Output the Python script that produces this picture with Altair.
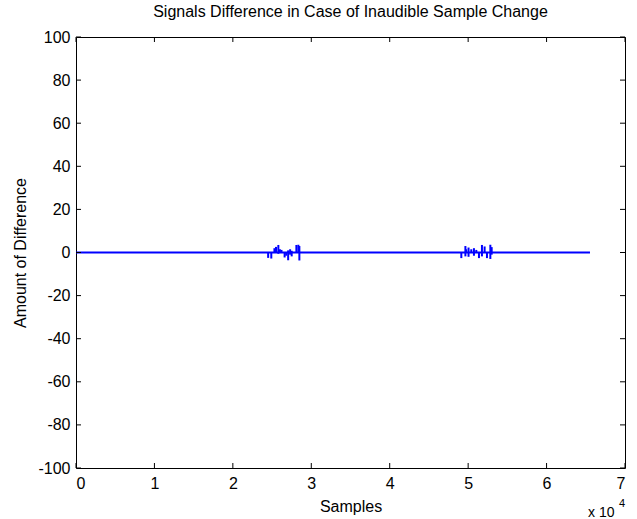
import altair as alt
import pandas as pd

# Baseline of the difference signal (essentially zero everywhere)
base_x = [0, 65536]
base_y = [0, 0]

# Spikes where the sample change happened (sample index, min, max)
spike_x = [24500, 24900, 25300, 25500, 25800, 26000, 26200, 26600, 26800, 27050,
           27300, 27500, 28100, 28350, 28480,
           49130, 49650, 49750, 50050, 50400, 50740, 51040, 51380, 51760, 52100,
           52400, 52830, 53000]
spike_lo = [-2.5, -2.8, 0, 0, -0.6, 0, 0, -2.3, -1.5, -3.6,
            -1.0, -1.8, 0, 0, -3.7,
            -2.6, -1.8, 0, -2.0, 0, -1.5, 0, -2.6, -1.8, 0,
            -2.6, -3.0, -1.0]
spike_hi = [0, 0, 2.0, 2.6, 3.5, 1.5, 1.2, 0, 0, 1.0,
            1.5, 0.8, 3.5, 3.6, 3.0,
            0, 3.0, 1.5, 2.3, 1.5, 2.0, 1.2, 0, 3.5, 2.8,
            0, 3.6, 2.5]

x_ticks = [0, 10000, 20000, 30000, 40000, 50000, 60000, 70000]
y_ticks = [-100, -80, -60, -40, -20, 0, 20, 40, 60, 80, 100]

W, H = 549, 431
FONT = "Liberation Sans"
FS = 16
BLUE = "#0000FF"

xscale = alt.Scale(domain=[0, 70000], nice=False, zero=False)
yscale = alt.Scale(domain=[-100, 100], nice=False, zero=False)

base_df = pd.DataFrame({"x": base_x, "y": base_y})
spike_df = pd.DataFrame({"x": spike_x, "lo": spike_lo, "hi": spike_hi})
xt_df = pd.DataFrame({"v": x_ticks})
yt_df = pd.DataFrame({"v": y_ticks})

base = alt.Chart(base_df).mark_line(color=BLUE, strokeWidth=2).encode(
    x=alt.X("x:Q", scale=xscale, title="Samples",
            axis=alt.Axis(values=x_ticks, labelExpr="'' + (datum.value / 10000)",
                          ticks=False, domain=False, grid=False,
                          labelFont=FONT, labelFontSize=FS, labelColor="black",
                          labelPadding=7, titleFont=FONT, titleFontSize=FS,
                          titleFontWeight="normal", titleColor="black",
                          titlePadding=7)),
    y=alt.Y("y:Q", scale=yscale, title="Amount of Difference",
            axis=alt.Axis(values=y_ticks, labelExpr="'' + datum.value",
                          ticks=False, domain=False, grid=False,
                          labelFont=FONT, labelFontSize=FS, labelColor="black",
                          labelPadding=6, titleFont=FONT, titleFontSize=FS,
                          titleFontWeight="normal", titleColor="black",
                          titlePadding=9)),
)

spikes = alt.Chart(spike_df).mark_rule(color=BLUE, strokeWidth=2).encode(
    x=alt.X("x:Q", scale=xscale),
    y=alt.Y("lo:Q", scale=yscale),
    y2="hi:Q",
)

tick_len = 5
xt_bottom = alt.Chart(xt_df).mark_rule(color="black").encode(
    x=alt.X("v:Q", scale=xscale), y=alt.value(H), y2=alt.value(H - tick_len))
xt_top = alt.Chart(xt_df).mark_rule(color="black").encode(
    x=alt.X("v:Q", scale=xscale), y=alt.value(0), y2=alt.value(tick_len))
yt_left = alt.Chart(yt_df).mark_rule(color="black").encode(
    y=alt.Y("v:Q", scale=yscale), x=alt.value(0), x2=alt.value(tick_len))
yt_right = alt.Chart(yt_df).mark_rule(color="black").encode(
    y=alt.Y("v:Q", scale=yscale), x=alt.value(W), x2=alt.value(W - tick_len))

exp_df = pd.DataFrame({"t": ["x 10"], "s": ["4"]})
exp_main = alt.Chart(exp_df).mark_text(
    font=FONT, fontSize=14, align="left", baseline="alphabetic", color="black"
).encode(text="t:N", x=alt.value(512), y=alt.value(480))
exp_sup = alt.Chart(exp_df).mark_text(
    font=FONT, fontSize=11, align="left", baseline="alphabetic", color="black"
).encode(text="s:N", x=alt.value(543), y=alt.value(470))

chart = alt.layer(base, spikes, xt_bottom, xt_top, yt_left, yt_right,
                  exp_main, exp_sup).properties(
    width=W, height=H,
    title=alt.TitleParams("Signals Difference in Case of Inaudible Sample Change",
                          font=FONT, fontSize=FS, fontWeight="normal",
                          color="black", offset=9, anchor="middle"),
    autosize=alt.AutoSizeParams(type="none"),
    padding={"left": 76, "top": 37, "right": 12, "bottom": 51},
).configure(background="white").configure_view(stroke="black", strokeWidth=1)

chart.save("out.html", embed_options={"renderer": "svg", "actions": False})
